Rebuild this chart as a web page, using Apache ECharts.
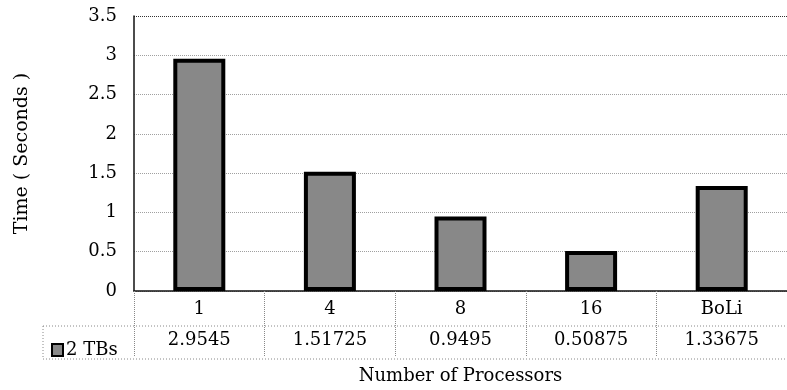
<!DOCTYPE html>
<html>
<head>
<meta charset="utf-8">
<script src="https://cdn.jsdelivr.net/npm/echarts@6/dist/echarts.min.js"></script>
<style>
  html, body { margin: 0; padding: 0; background: #fff; }
  #chart { width: 787px; height: 390px; }
</style>
</head>
<body>
<div id="chart"></div>
<script>
// Run time per processor count, 2 TB input
var categories = ['1', '4', '8', '16', 'BoLi'];
var seriesName = '2 TBs';
var times = [2.9545, 1.51725, 0.9495, 0.50875, 1.33675];
var yTicks = { min: 0, max: 3.5, step: 0.5 };

var FONT = 'DejaVu Serif';
var INK = '#000';
var SIZE = 18;

var chart = echarts.init(document.getElementById('chart'), null, { renderer: 'canvas' });

// grid-line colours: dotted light rules, darker rule on the top edge
var ruleCount = Math.round((yTicks.max - yTicks.min) / yTicks.step) + 1;
var ruleColors = [];
for (var i = 0; i < ruleCount; i++) ruleColors.push(i === ruleCount - 1 ? '#333' : '#a0a0a0');

var labelStyle = { fontFamily: FONT, fontSize: SIZE, color: INK };

var option = {
  backgroundColor: '#fff',
  animation: false,
  textStyle: { fontFamily: FONT },
  grid: { left: 134, top: 16, width: 656, bottom: 96, containLabel: false },
  legend: {
    data: [seriesName],
    left: 46, top: 336,
    icon: 'rect', itemWidth: 11, itemHeight: 12, itemGap: 4,
    itemStyle: { borderColor: '#000', borderWidth: 2 },
    textStyle: { fontFamily: FONT, fontSize: SIZE, color: INK, padding: [0, 0, 0, -2] }
  },
  xAxis: [
    {
      type: 'category',
      data: categories,
      name: 'Number of Processors',
      nameLocation: 'middle',
      nameGap: 76,
      nameTextStyle: labelStyle,
      axisLine: { show: true, lineStyle: { color: '#111', width: 1.5 } },
      axisTick: { show: true, inside: false, length: 65, alignWithLabel: false,
                  lineStyle: { color: '#888', type: 'dotted', width: 1 } },
      axisLabel: Object.assign({ margin: 9 }, labelStyle),
      splitLine: { show: false }
    },
    {
      // data-table row: the value under each category
      type: 'category',
      position: 'bottom',
      offset: 32,
      data: times.map(function (v) { return String(v); }),
      axisLine: { show: false },
      axisTick: { show: false },
      axisLabel: Object.assign({ margin: 8 }, labelStyle),
      splitLine: { show: false }
    }
  ],
  yAxis: {
    type: 'value',
    min: yTicks.min, max: yTicks.max, interval: yTicks.step,
    name: 'Time ( Seconds )',
    nameLocation: 'middle',
    nameGap: 102,
    nameTextStyle: { fontFamily: FONT, fontSize: 19, color: INK },
    axisLine: { show: true, lineStyle: { color: '#111', width: 1.5 } },
    axisTick: { show: false },
    axisLabel: Object.assign({ margin: 17 }, labelStyle),
    splitLine: { show: true, lineStyle: { color: ruleColors, type: 'dotted', width: 1 } }
  },
  series: [{
    name: seriesName,
    type: 'bar',
    xAxisIndex: 0,
    data: times,
    barWidth: 52,
    itemStyle: { color: '#888888', borderColor: '#000', borderWidth: 4 }
  }],
  graphic: [
    // table borders: row divider, bottom edge and the legend cell's left edge
    { type: 'line', shape: { x1: 43, y1: 326, x2: 787, y2: 326 },
      style: { stroke: '#888', lineWidth: 1, lineDash: [1, 2] } },
    { type: 'line', shape: { x1: 43, y1: 359, x2: 787, y2: 359 },
      style: { stroke: '#888', lineWidth: 1, lineDash: [1, 2] } },
    { type: 'line', shape: { x1: 43, y1: 326, x2: 43, y2: 359 },
      style: { stroke: '#888', lineWidth: 1, lineDash: [1, 2] } }
  ]
};

chart.setOption(option);
</script>
</body>
</html>
